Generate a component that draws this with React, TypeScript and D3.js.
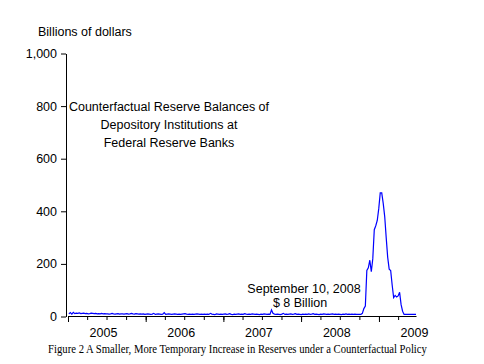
import React, { useRef, useEffect } from 'react';
import * as d3 from 'd3';

// weekly counterfactual reserve balances, billions of dollars, first week Jan 5, 2005
const flatWeeks = [
  10, 15, 9, 16, 11, 13, 12, 14, 11, 12, 13, 11, 12, 10, 11, 13, 12, 11, 12, 10,
  11, 10, 12, 10, 11, 10, 10, 9, 10, 12, 10, 9, 10, 11, 9, 10, 10, 9, 10, 11,
  9, 10, 12, 10, 9, 11, 10, 9, 10, 9, 10, 8, 9, 10, 9, 8, 9, 12, 8, 9,
  10, 9, 8, 9, 15, 8, 9, 10, 9, 8, 9, 10, 9, 8, 9, 8, 9, 10, 11, 9,
  8, 9, 8, 9, 8, 9, 10, 9, 8, 9, 8, 9, 8, 9, 8, 12, 9, 8, 7, 10,
  9, 8, 9, 8, 9, 10, 8, 9, 11, 8, 7, 9, 8, 9, 10, 8, 9, 8, 11, 9,
  8, 9, 8, 10, 9, 8, 9, 8, 7, 9, 8, 10, 9, 8, 9, 8, 25, 12, 9, 8,
  9, 8, 7, 9, 12, 8, 9, 8, 9, 10, 8, 9, 11, 8, 9, 8, 7, 9, 8, 9,
  8, 10, 8, 9, 11, 8, 9, 8, 7, 9, 8, 10, 9, 8, 9, 8, 9, 10, 8, 9,
  8, 9, 8, 7, 9, 8, 10, 8, 9, 8, 9, 8, 9, 8, 8, 8,
];
const crisisWeeks = [
  8, 12, 30, 40, 175, 185, 214, 170, 220, 330,
  345, 365, 410, 470, 470, 430, 380, 300, 225, 180,
  175, 120, 72, 80, 74, 78, 92, 45, 20, 8,
  8, 8, 8, 8, 8, 8, 8, 8,
];
const reserves = [...flatWeeks, ...crisisWeeks];

const yTicks = [0, 200, 400, 600, 800, 1000];
const yearLabels = [2005, 2006, 2007, 2008, 2009];
const noteLines = ['Counterfactual Reserve Balances of', 'Depository Institutions at', 'Federal Reserve Banks'];
const sepLines = ['September 10, 2008', '$ 8 Billion'];

const App = () => {
  const chartRef = useRef(null);

  useEffect(() => {
    const el = chartRef.current;
    d3.select(el).selectAll('*').remove();

    const width = 484;
    const height = 364;
    const font = 'Arial, "Liberation Sans", sans-serif';
    const fs = 12.5;

    const svg = d3
      .select(el)
      .append('svg')
      .attr('width', width)
      .attr('height', height)
      .style('display', 'block')
      .style('background', '#fff');

    const x = d3
      .scaleTime()
      .domain([new Date(2005, 0, 1), new Date(2009, 5, 24)])
      .range([68, 416]);
    const y = d3.scaleLinear().domain([0, 1000]).range([316.5, 53.5]);

    const start = new Date(2005, 0, 5);
    const points = reserves.map((v, i) => [d3.timeDay.offset(start, 7 * i), v]);

    // y axis
    const yAxis = svg
      .append('g')
      .attr('transform', 'translate(66,0)')
      .call(d3.axisLeft(y).tickValues(yTicks).tickSize(5).tickSizeOuter(0).tickFormat(d3.format(',')));
    yAxis.selectAll('text').attr('font-family', font).attr('font-size', fs).attr('fill', '#000').attr('dx', -1);
    yAxis.selectAll('line,path').attr('stroke', '#000');

    // x axis: quarterly minor ticks, yearly major ticks
    const xg = svg.append('g').attr('transform', 'translate(0,316)');
    xg.call(
      d3.axisBottom(x)
        .tickValues(d3.timeMonth.every(3).range(new Date(2005, 0, 1), new Date(2009, 5, 1)))
        .tickSize(4)
        .tickSizeOuter(0)
        .tickFormat(() => '')
    );
    xg.append('g').call(
      d3.axisBottom(x)
        .tickValues(d3.timeYear.range(new Date(2005, 0, 1), new Date(2009, 1, 1)))
        .tickSize(6)
        .tickSizeOuter(0)
        .tickFormat(() => '')
    );
    xg.selectAll('g > g > path').remove();
    xg.selectAll('line,path').attr('stroke', '#000');

    svg
      .append('g')
      .selectAll('text')
      .data(yearLabels)
      .enter()
      .append('text')
      .attr('x', (d) => x(new Date(d, 6, 1)) - 3)
      .attr('y', 337)
      .attr('text-anchor', 'middle')
      .attr('font-family', font)
      .attr('font-size', fs)
      .text((d) => d);

    // series
    const line = d3
      .line()
      .x((d) => x(d[0]))
      .y((d) => y(d[1]));
    svg
      .append('path')
      .datum(points)
      .attr('d', line)
      .attr('fill', 'none')
      .attr('stroke', '#0000ff')
      .attr('stroke-width', 1.2)
      .attr('stroke-linejoin', 'miter');

    // texts
    svg
      .append('text')
      .attr('x', 38)
      .attr('y', 36)
      .attr('font-family', font)
      .attr('font-size', fs)
      .text('Billions of dollars');

    svg
      .append('g')
      .selectAll('text')
      .data(noteLines)
      .enter()
      .append('text')
      .attr('x', 169)
      .attr('y', (d, i) => 111 + i * 18)
      .attr('text-anchor', 'middle')
      .attr('font-family', font)
      .attr('font-size', fs)
      .text((d) => d);

    svg
      .append('g')
      .selectAll('text')
      .data(sepLines)
      .enter()
      .append('text')
      .attr('x', (d, i) => (i === 0 ? 304 : 300))
      .attr('y', (d, i) => 293 + i * 14)
      .attr('text-anchor', 'middle')
      .attr('font-family', font)
      .attr('font-size', fs)
      .text((d) => d);

    // caption, squeezed horizontally like the original
    svg
      .append('g')
      .attr('transform', 'translate(237.5,353) scale(0.855,1)')
      .append('text')
      .attr('text-anchor', 'middle')
      .attr('font-family', '"Liberation Serif", "Times New Roman", serif')
      .attr('font-size', 12.5)
      .text('Figure 2 A Smaller, More Temporary Increase in Reserves under a Counterfactual Policy');
  }, []);

  return <div ref={chartRef} style={{ margin: -8 }}></div>;
};

export default App;
